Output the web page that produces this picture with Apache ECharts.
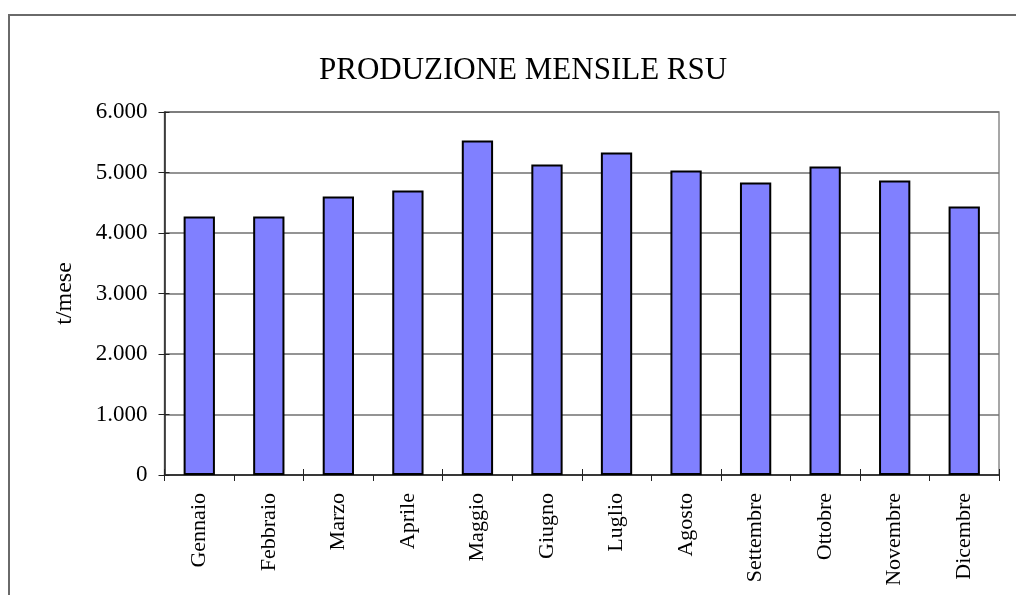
<!DOCTYPE html>
<html>
<head>
<meta charset="utf-8">
<script src="https://cdn.jsdelivr.net/npm/echarts@6/dist/echarts.min.js"></script>
<style>html,body{margin:0;padding:0;background:#fff}#c{width:1016px;height:595px}</style>
</head>
<body>
<div id="c"></div>
<script>
const categories = ['Gennaio','Febbraio','Marzo','Aprile','Maggio','Giugno','Luglio','Agosto','Settembre','Ottobre','Novembre','Dicembre'];
const values = [4272, 4272, 4603, 4702, 5530, 5132, 5331, 5033, 4834, 5099, 4868, 4437];
const titleText = 'PRODUZIONE MENSILE RSU';
const yName = 't/mese';

const font = '"Liberation Serif", "Times New Roman", serif';
const fmt = v => v === 0 ? '0' : String(v).replace(/\B(?=(\d{3})+(?!\d))/g, '.');

const chart = echarts.init(document.getElementById('c'), null, {renderer: 'canvas'});
chart.setOption({
  animation: false,
  backgroundColor: '#fff',
  title: {
    text: titleText, left: 314, top: 50,
    textStyle: {fontFamily: font, fontSize: 31, fontWeight: 'normal', color: '#000'}
  },
  graphic: [{
    type: 'rect', shape: {x: 9, y: 15, width: 1100, height: 700},
    style: {fill: 'none', stroke: '#6a6a6a', lineWidth: 2}, silent: true, z: -1
  }],
  grid: {left: 164.5, right: 17, top: 112, bottom: 120, show: true, borderColor: '#8a8a8a', borderWidth: 1.5, backgroundColor: 'transparent'},
  xAxis: [{
    type: 'category', data: categories, position: 'bottom',
    axisLine: {lineStyle: {color: '#222', width: 1.5}},
    axisTick: {show: true, length: 6, lineStyle: {color: '#222', width: 1}},
    axisLabel: {rotate: 90, margin: 18, fontFamily: font, fontSize: 22, color: '#000'}
  }, {
    type: 'category', data: categories, position: 'bottom', offset: 0,
    axisLine: {show: false},
    axisTick: {show: true, inside: true, length: 6, lineStyle: {color: '#222', width: 1}},
    axisLabel: {show: false}, splitLine: {show: false}
  }],
  yAxis: [{
    type: 'value', min: 0, max: 6000, interval: 1000, position: 'left',
    name: yName, nameLocation: 'middle', nameRotate: 90, nameGap: 88,
    nameTextStyle: {fontFamily: font, fontSize: 24, color: '#000'},
    axisLine: {show: true, lineStyle: {color: '#222', width: 1.5}},
    axisTick: {show: true, length: 6, lineStyle: {color: '#222', width: 1}},
    axisLabel: {margin: 17, fontFamily: font, fontSize: 23, color: '#000', formatter: fmt},
    splitLine: {show: true, lineStyle: {color: '#707070', width: 1.5}}
  }, {
    type: 'value', min: 0, max: 6000, interval: 1000, position: 'left', offset: 0,
    axisLine: {show: false},
    axisTick: {show: true, inside: true, length: 5, lineStyle: {color: '#222', width: 1}},
    axisLabel: {show: false}, splitLine: {show: false}
  }],
  series: [{
    type: 'bar', data: values, xAxisIndex: 0, yAxisIndex: 0,
    barWidth: '45%',
    itemStyle: {color: '#8080ff', borderColor: '#000', borderWidth: 2}
  }]
});
</script>
</body>
</html>
